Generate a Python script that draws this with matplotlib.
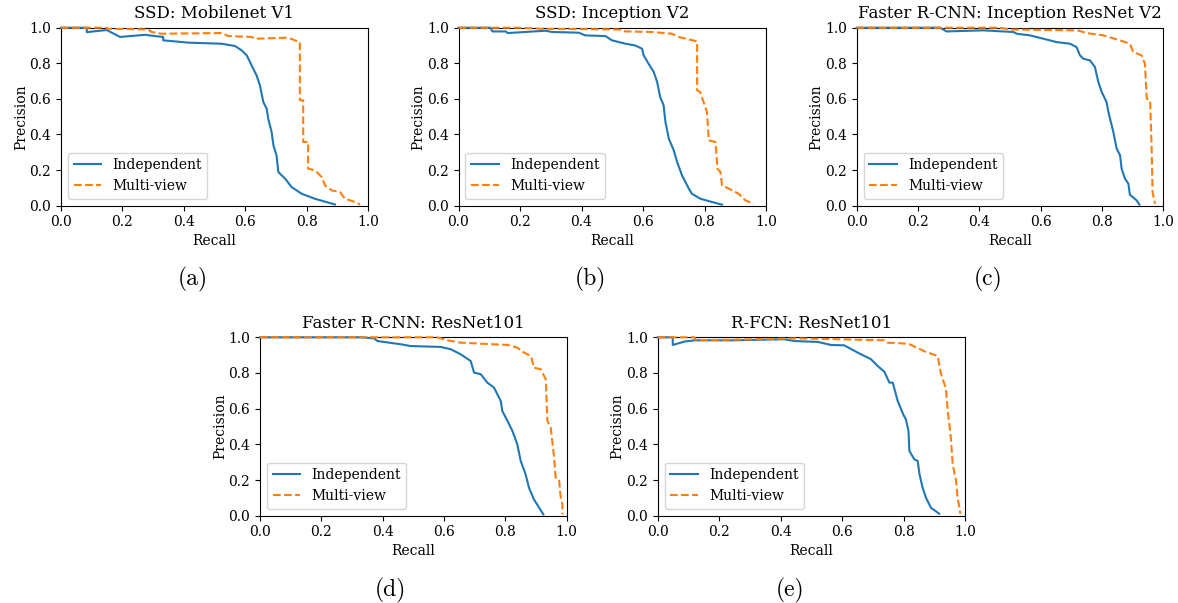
import matplotlib
matplotlib.use("Agg")
import matplotlib.pyplot as plt

plt.rcParams['font.family'] = ['DejaVu Serif']
plt.rcParams['font.size'] = 10

# precision-recall points
titles = ["SSD: Mobilenet V1", "SSD: Inception V2", "Faster R-CNN: Inception ResNet V2",
          "Faster R-CNN: ResNet101", "R-FCN: ResNet101"]
captions = ["(a)", "(b)", "(c)", "(d)", "(e)"]

# (a)
a_ind_r = [0.0, 0.084, 0.084, 0.149, 0.192, 0.274, 0.306, 0.333, 0.333, 0.415, 0.523, 0.567, 0.588, 0.605,
           0.621, 0.637, 0.648, 0.659, 0.67, 0.675, 0.686, 0.692, 0.702, 0.708, 0.73, 0.751, 0.784, 0.827, 0.892]
a_ind_p = [1.0, 1.0, 0.975, 0.987, 0.948, 0.96, 0.953, 0.948, 0.929, 0.916, 0.91, 0.897, 0.873, 0.845,
           0.788, 0.732, 0.676, 0.582, 0.545, 0.489, 0.414, 0.339, 0.283, 0.189, 0.152, 0.105, 0.067, 0.039, 0.007]
a_mv_r = [0.0, 0.149, 0.15, 0.284, 0.295, 0.328, 0.523, 0.545, 0.621, 0.632, 0.74, 0.762, 0.778, 0.778,
          0.789, 0.789, 0.805, 0.805, 0.827, 0.849, 0.86, 0.882, 0.909, 0.925, 0.958, 0.974]
a_mv_p = [1.0, 1.0, 0.994, 0.99, 0.976, 0.966, 0.97, 0.953, 0.948, 0.938, 0.944, 0.929, 0.919, 0.592,
          0.592, 0.358, 0.358, 0.208, 0.199, 0.161, 0.114, 0.086, 0.077, 0.039, 0.021, 0.006]

# (b)
b_ind_r = [0.0, 0.104, 0.11, 0.154, 0.16, 0.283, 0.304, 0.391, 0.412, 0.478, 0.499, 0.543, 0.575, 0.597,
           0.602, 0.618, 0.635, 0.646, 0.656, 0.667, 0.673, 0.684, 0.7, 0.711, 0.727, 0.749, 0.759, 0.787,
           0.824, 0.857]
b_ind_p = [1.0, 1.0, 0.979, 0.979, 0.97, 0.983, 0.976, 0.972, 0.957, 0.953, 0.929, 0.91, 0.9, 0.882,
           0.845, 0.798, 0.751, 0.695, 0.61, 0.564, 0.47, 0.376, 0.311, 0.245, 0.17, 0.096, 0.067, 0.039,
           0.021, 0.006]
b_mv_r = [0.0, 0.196, 0.272, 0.521, 0.543, 0.629, 0.694, 0.716, 0.776, 0.776, 0.786, 0.797, 0.808, 0.814,
          0.836, 0.842, 0.852, 0.857, 0.879, 0.911, 0.933, 0.96]
b_mv_p = [1.0, 1.0, 0.994, 0.99, 0.979, 0.976, 0.966, 0.948, 0.923, 0.648, 0.639, 0.582, 0.526, 0.367,
          0.358, 0.208, 0.189, 0.114, 0.096, 0.067, 0.03, 0.011]

# (c)
c_ind_r = [0.0, 0.272, 0.293, 0.413, 0.511, 0.522, 0.565, 0.609, 0.652, 0.696, 0.717, 0.728, 0.739, 0.761,
           0.777, 0.788, 0.799, 0.815, 0.821, 0.837, 0.848, 0.859, 0.864, 0.875, 0.886, 0.891, 0.913, 0.922]
c_ind_p = [1.0, 1.0, 0.979, 0.985, 0.976, 0.966, 0.957, 0.938, 0.919, 0.91, 0.891, 0.845, 0.826, 0.816,
           0.779, 0.695, 0.639, 0.582, 0.526, 0.414, 0.32, 0.283, 0.208, 0.152, 0.124, 0.062, 0.03, 0.006]
c_mv_r = [0.0, 0.467, 0.5, 0.72, 0.75, 0.804, 0.859, 0.891, 0.902, 0.929, 0.94, 0.946, 0.957, 0.962, 0.965,
          0.973]
c_mv_p = [1.0, 1.0, 0.99, 0.985, 0.97, 0.957, 0.929, 0.91, 0.863, 0.845, 0.798, 0.601, 0.592, 0.32, 0.077,
          0.011]

# (d)
d_ind_r = [0.0, 0.328, 0.372, 0.383, 0.459, 0.491, 0.589, 0.622, 0.654, 0.687, 0.698, 0.72, 0.741, 0.763,
           0.785, 0.79, 0.807, 0.823, 0.839, 0.85, 0.866, 0.877, 0.893, 0.91, 0.924]
d_ind_p = [1.0, 1.0, 0.994, 0.979, 0.961, 0.951, 0.946, 0.933, 0.905, 0.867, 0.802, 0.793, 0.746, 0.718,
           0.643, 0.587, 0.531, 0.475, 0.4, 0.307, 0.232, 0.157, 0.092, 0.045, 0.007]
d_mv_r = [0.0, 0.578, 0.611, 0.654, 0.807, 0.839, 0.861, 0.884, 0.893, 0.915, 0.932, 0.937, 0.948, 0.959,
          0.964, 0.975, 0.98, 0.986, 0.986]
d_mv_p = [1.0, 1.0, 0.983, 0.97, 0.957, 0.942, 0.914, 0.895, 0.83, 0.821, 0.764, 0.531, 0.493, 0.325,
          0.213, 0.204, 0.11, 0.064, 0.007]

# (e)
e_ind_r = [0.0, 0.049, 0.049, 0.087, 0.119, 0.239, 0.412, 0.445, 0.521, 0.564, 0.607, 0.651, 0.694, 0.716,
           0.738, 0.754, 0.765, 0.781, 0.799, 0.808, 0.816, 0.819, 0.835, 0.846, 0.852, 0.862, 0.873, 0.889,
           0.916]
e_ind_p = [1.0, 1.0, 0.957, 0.976, 0.983, 0.983, 0.989, 0.979, 0.974, 0.957, 0.955, 0.914, 0.877, 0.839,
           0.806, 0.746, 0.746, 0.643, 0.568, 0.538, 0.475, 0.363, 0.316, 0.307, 0.232, 0.157, 0.101, 0.045,
           0.011]
e_mv_r = [0.0, 0.119, 0.125, 0.456, 0.738, 0.748, 0.816, 0.87, 0.911, 0.922, 0.938, 0.944, 0.954, 0.96,
          0.971, 0.976, 0.985]
e_mv_p = [1.0, 1.0, 0.983, 0.994, 0.983, 0.97, 0.964, 0.92, 0.895, 0.794, 0.712, 0.587, 0.437, 0.288,
          0.194, 0.101, 0.011]

curves = [
    (a_ind_r, a_ind_p, a_mv_r, a_mv_p),
    (b_ind_r, b_ind_p, b_mv_r, b_mv_p),
    (c_ind_r, c_ind_p, c_mv_r, c_mv_p),
    (d_ind_r, d_ind_p, d_mv_r, d_mv_p),
    (e_ind_r, e_ind_p, e_mv_r, e_mv_p),
]

W, H = 1178, 603
fig = plt.figure(figsize=(W / 100, H / 100), dpi=100)

# axes boxes in pixels: left, top, right, bottom
boxes = [(61, 27.7, 368, 205.7), (458.5, 27.7, 766, 205.7), (856.7, 27.7, 1163.3, 205.7),
         (260, 337.3, 566.7, 515.7), (657.7, 337.3, 965, 515.7)]
cap_pos = [(193, 279), (590, 279), (988, 279), (390, 590), (790, 590)]

for i in range(5):
    l, t, r, b = boxes[i]
    ax = fig.add_axes([l / W, 1 - b / H, (r - l) / W, (b - t) / H])
    ir, ip, mr, mp = curves[i]
    ax.plot(ir, ip, color='#1f77b4', lw=1.5, label='Independent', zorder=3, clip_on=False)
    ax.plot(mr, mp, color='#ff7f0e', lw=1.5, ls='--', label='Multi-view', zorder=3, clip_on=False)
    ax.set_xlim(0, 1)
    ax.set_ylim(0, 1)
    ax.set_title(titles[i], fontsize=12, pad=7)
    ax.set_xlabel('Recall', labelpad=3)
    ax.set_ylabel('Precision', labelpad=1)
    ax.legend(loc='lower left')
    cx, cy = cap_pos[i]
    fig.text(cx / W, 1 - cy / H, captions[i], family='cmr10', fontsize=17, ha='center', va='center')

fig.savefig('out.png', dpi=100)
